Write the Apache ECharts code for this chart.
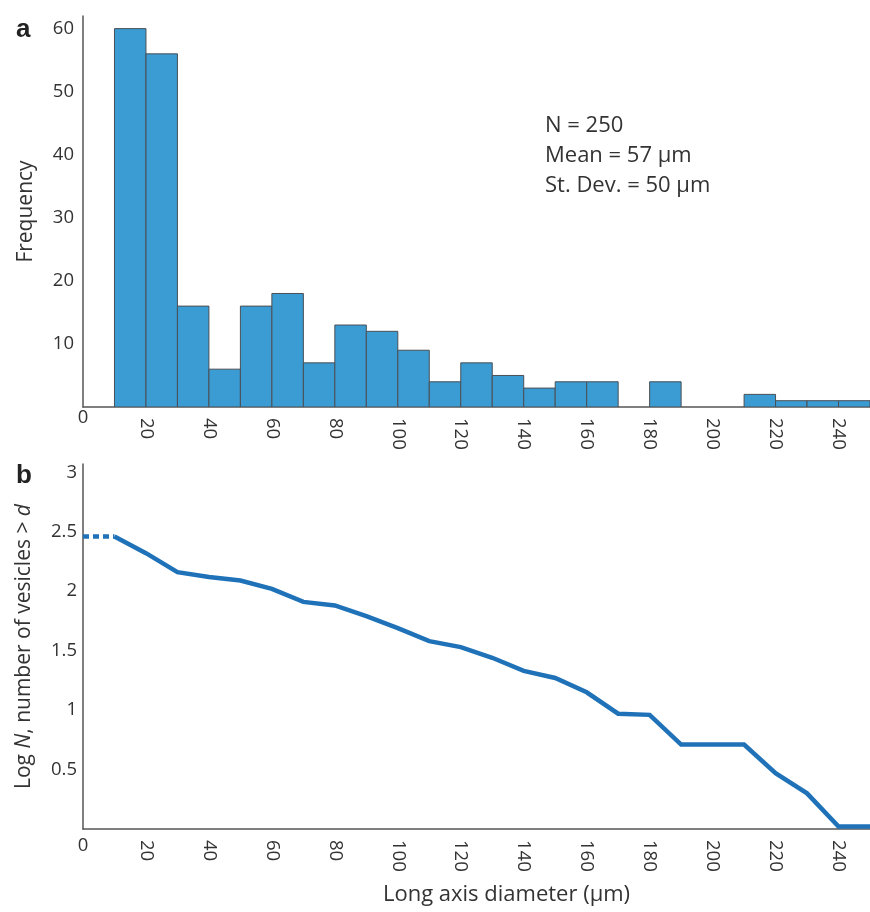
<!DOCTYPE html>
<html>
<head>
<meta charset="utf-8">
<script src="https://cdn.jsdelivr.net/npm/echarts@6/dist/echarts.min.js"></script>
<style>
  html, body { margin: 0; padding: 0; background: #fff; }
  #chart { width: 870px; height: 912px; }
</style>
</head>
<body>
<div id="chart"></div>
<script>
// histogram (a): bin start and frequency, bins are 10 um wide
const binWidth = 10;
const binStart = [10, 20, 30, 40, 50, 60, 70, 80, 90, 100, 110, 120, 130, 140, 150, 160, 170, 180, 190, 200, 210, 220, 230, 240];
const counts   = [60, 56, 16, 6, 16, 18, 7, 13, 12, 9, 4, 7, 5, 3, 4, 4, 0, 4, 0, 0, 2, 1, 1, 1];

// cumulative curve (b)
const diameters = [10, 20, 30, 40, 50, 60, 70, 80, 90, 100, 110, 120, 130, 140, 150, 160, 170, 180, 190, 200, 210, 220, 230, 240, 250];
const logN      = [2.46, 2.32, 2.16, 2.12, 2.09, 2.02, 1.91, 1.88, 1.79, 1.69, 1.58, 1.53, 1.44, 1.33, 1.27, 1.15, 0.97, 0.96, 0.71, 0.71, 0.71, 0.47, 0.30, 0.02, 0.02];
// dotted extrapolation back to 0
const extrapX = [0, 10];
const extrapY = [2.46, 2.46];

const stats = ['N = 250', 'Mean = 57 \u00b5m', 'St. Dev. = 50 \u00b5m'];

const FONT = '"Open Sans", "Noto Sans", sans-serif';
const TXT = '#333';
const AXIS = '#555';

const chart = echarts.init(document.getElementById('chart'));

// pairs for the library
const bars = binStart.map((s, i) => [s, counts[i]]);
const curve = diameters.map((d, i) => [d, logN[i]]);
const extrap = extrapX.map((d, i) => [d, extrapY[i]]);

const axisLine = { show: true, lineStyle: { color: AXIS, width: 1.5 } };
const tickFont = { color: TXT, fontFamily: FONT, fontSize: 18.5 };

function zeroOnly(v) { return v === 0 ? '0' : ''; }

let option = {
  animation: false,
  backgroundColor: '#fff',
  grid: [
    { left: 83, right: -3, top: 16, bottom: 505 },
    { left: 83, right: -3, top: 464, bottom: 83 }
  ],
  xAxis: [
    {
      gridIndex: 0, type: 'value', position: 'bottom', min: 0, max: 250, interval: 20,
      axisLine: axisLine, axisTick: { show: false }, splitLine: { show: false },
      axisLabel: Object.assign({ rotate: -90, margin: 11, showMinLabel: false, showMaxLabel: false }, tickFont)
    },
    {
      // only carries the "0" at the corner
      gridIndex: 0, type: 'value', position: 'bottom', offset: 0, min: 0, max: 250, interval: 20,
      axisLine: { show: false }, axisTick: { show: false }, splitLine: { show: false },
      axisLabel: Object.assign({ margin: 1, formatter: zeroOnly, showMaxLabel: false }, tickFont)
    },
    {
      gridIndex: 1, type: 'value', position: 'bottom', min: 0, max: 250, interval: 20,
      axisLine: axisLine, axisTick: { show: false }, splitLine: { show: false },
      axisLabel: Object.assign({ rotate: -90, margin: 11, showMinLabel: false, showMaxLabel: false }, tickFont),
      name: 'Long axis diameter (\u00b5m)', nameLocation: 'middle', nameGap: 55,
      nameTextStyle: { color: TXT, fontFamily: FONT, fontSize: 22, padding: [0, 0, 0, 60] }
    },
    {
      gridIndex: 1, type: 'value', position: 'bottom', offset: 0, min: 0, max: 250, interval: 20,
      axisLine: { show: false }, axisTick: { show: false }, splitLine: { show: false },
      axisLabel: Object.assign({ margin: 7, formatter: zeroOnly, showMaxLabel: false }, tickFont)
    }
  ],
  yAxis: [
    {
      gridIndex: 0, type: 'value', min: 0, max: 62, interval: 10,
      axisLine: axisLine, axisTick: { show: false }, splitLine: { show: false },
      axisLabel: Object.assign({ margin: 9, showMinLabel: false, showMaxLabel: false }, tickFont),
      name: 'Frequency', nameLocation: 'middle', nameGap: 46,
      nameTextStyle: { color: TXT, fontFamily: FONT, fontSize: 21 }
    },
    {
      gridIndex: 1, type: 'value', min: 0, max: 3.07, interval: 0.5,
      axisLine: axisLine, axisTick: { show: false }, splitLine: { show: false },
      axisLabel: Object.assign({ margin: 6, showMinLabel: false, showMaxLabel: false }, tickFont),
      name: '{n|Log }{i|N}{n|, number of vesicles > }{i|d}', nameLocation: 'middle', nameGap: 48,
      nameTextStyle: {
        color: TXT, fontFamily: FONT, fontSize: 21,
        rich: {
          n: { color: TXT, fontFamily: FONT, fontSize: 21 },
          i: { color: TXT, fontFamily: FONT, fontSize: 21, fontStyle: 'italic' }
        }
      }
    }
  ],
  series: [
    {
      type: 'custom',
      xAxisIndex: 0, yAxisIndex: 0,
      data: bars,
      encode: { x: 0, y: 1 },
      clip: true,
      renderItem: function (params, api) {
        const x0 = api.value(0);
        const y = api.value(1);
        if (!y) return null;
        const p0 = api.coord([x0, 0]);
        const p1 = api.coord([x0 + binWidth, y]);
        return {
          type: 'rect',
          shape: { x: p0[0], y: p1[1], width: p1[0] - p0[0], height: p0[1] - p1[1] },
          style: { fill: '#3b9bd3', stroke: '#4a4f55', lineWidth: 1 }
        };
      }
    },
    {
      type: 'line',
      xAxisIndex: 2, yAxisIndex: 1,
      data: extrap,
      showSymbol: false,
      lineStyle: { color: '#1f72b8', width: 4.5, type: [6, 4] }
    },
    {
      type: 'line',
      xAxisIndex: 2, yAxisIndex: 1,
      data: curve,
      showSymbol: false,
      clip: false,
      lineStyle: { color: '#1f72b8', width: 4.5, join: 'miter' }
    }
  ],
  graphic: [
    { type: 'text', left: 16, top: 17, style: { text: 'a', fontFamily: '"Liberation Sans", Arial, sans-serif', fontWeight: 'bold', fontSize: 26, fill: '#222' } },
    { type: 'text', left: 16, top: 463, style: { text: 'b', fontFamily: '"Liberation Sans", Arial, sans-serif', fontWeight: 'bold', fontSize: 26, fill: '#222' } },
    { type: 'text', left: 545, top: 111, style: { text: stats.join('\n'), fontFamily: FONT, fontSize: 22, lineHeight: 30, fill: TXT } }
  ]
};

chart.setOption(option);
</script>
</body>
</html>
